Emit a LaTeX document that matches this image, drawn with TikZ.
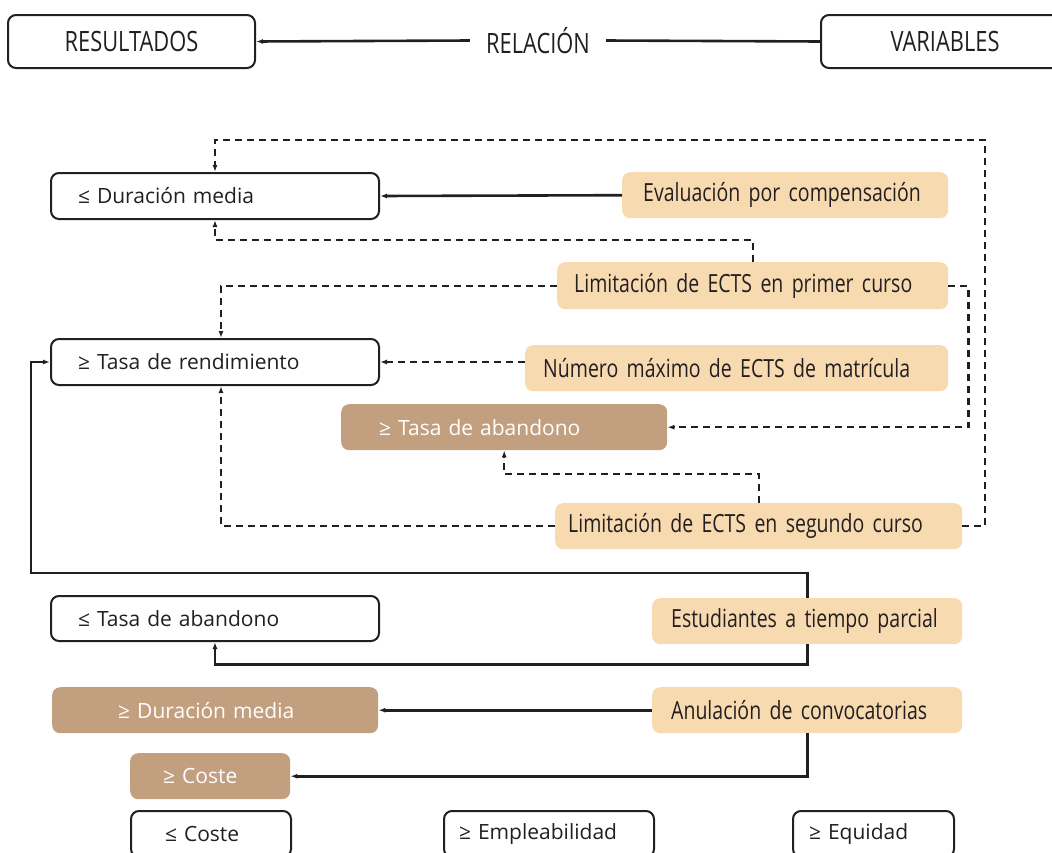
\documentclass[tikz,border=0pt]{standalone}
\usepackage{fontspec}
\setmainfont{Open Sans}
\newfontfamily\narrowfont[FakeStretch=0.78, WordSpace=0.8]{Open Sans}
\newfontfamily\headfont[FakeStretch=0.78]{Open Sans}
\usetikzlibrary{arrows.meta}
\definecolor{ink}{HTML}{231F20}
\definecolor{peach}{HTML}{F8DAB1}
\definecolor{tan}{HTML}{C29F7F}

\begin{document}
\begin{tikzpicture}[x=1pt, y=-1pt,
    every node/.style={text=ink, inner ysep=0pt, anchor=north west, align=left},
    head/.style={draw=ink, line width=2pt, rounded corners=8pt, minimum height=53pt,
      font=\headfont\fontsize{28}{30}\selectfont, align=center},
    res/.style={draw=ink, line width=2pt, rounded corners=8pt, minimum height=46pt,
      font=\fontsize{21}{24}\selectfont},
    tanbox/.style={fill=tan, rounded corners=8pt, minimum height=46pt, text=white,
      font=\fontsize{21}{24}\selectfont},
    var/.style={fill=peach, rounded corners=8pt, minimum height=46pt,
      font=\narrowfont\fontsize{25}{28}\selectfont},
    sline/.style={draw=ink, line width=2.6pt},
    dline/.style={draw=ink, line width=2.2pt, dash pattern=on 7pt off 5pt},
    >={Latex[length=7pt,width=5pt]}]
  \clip (0,0) rectangle (1052,852);

  % Header
  \node[head, text width=247pt, inner xsep=0pt] (hres) at (7,14) {RESULTADOS};
  \node[head, text width=248pt, inner xsep=0pt] (hvar) at (820,14) {VARIABLES};
  \node[anchor=center, font=\headfont\fontsize{28}{30}\selectfont, inner xsep=16pt] (rel) at (538,40.5) {RELACIÓN};
  \draw[sline,->] (rel.west) -- (hres.east);
  \draw[sline] (rel.east) -- (hvar.west);

  % Resultados
  \node[res, text width=274pt, inner xsep=27pt] (dmed) at (50,172) {≤ Duración media};
  \node[res, text width=274pt, inner xsep=27pt] (trend) at (50,338) {≥ Tasa de rendimiento};
  \node[tanbox, text width=250pt, inner xsep=38pt] (tab) at (341,404) {≥ Tasa de abandono};
  \node[res, text width=274pt, inner xsep=27pt, minimum height=45pt] (tab2) at (50,595) {≤ Tasa de abandono};
  \node[tanbox, text width=194pt, inner xsep=66pt] (dmed2) at (52,687) {≥ Duración media};
  \node[tanbox, text width=94pt, inner xsep=33pt] (coste) at (130,753) {≥ Coste};
  \node[res, text width=92pt, inner xsep=34pt] (lcoste) at (130,810) {≤ Coste};
  \node[res, text width=180pt, inner xsep=15pt] (empl) at (443,810) {≥ Empleabilidad};
  \node[res, text width=129pt, inner xsep=16pt] (equi) at (792,810) {≥ Equidad};

  % Variables
  \node[var, text width=284pt, inner xsep=21pt] (eval) at (622,172) {Evaluación por compensación};
  \node[var, text width=357pt, inner xsep=17pt, minimum height=47pt] (lim1) at (557,262) {Limitación de ECTS en primer curso};
  \node[var, text width=387pt, inner xsep=18pt] (num) at (525,345) {Número máximo de ECTS de matrícula};
  \node[var, text width=381pt, inner xsep=13pt] (seg2) at (555,503) {Limitación de ECTS en segundo curso};
  \node[var, text width=272pt, inner xsep=19pt] (est) at (652,598) {Estudiantes a tiempo parcial};
  \node[var, text width=272pt, inner xsep=19pt] (anul) at (652,687) {Anulación de convocatorias};

  % Relaciones directas
  \draw[sline,->] (eval.west) -- (dmed.east);
  \draw[sline,->] (anul.west) -- (dmed2.east);
  \draw[sline,->] (anul.south) |- (coste.east);
  \draw[sline,->] (est.north) |- (31,573) |- (trend.west);
  \draw[sline,->] (est.south) -- ++(0,20) -| (tab2.south);

  % Relaciones discontinuas
  \draw[dline,->] (seg2.east) -| (985,140) -| (dmed.north);
  \draw[dline,->] (lim1.east) -- ++(20,0) |- (tab.east);
  \draw[dline,->] (lim1.north) -- ++(0,-22) -| (dmed.south);
  \draw[dline,->] (lim1.west) -| ([xshift=6pt]trend.north);
  \draw[dline,->] (num.west |- trend.east) -- (trend.east);
  \draw[dline,->] (seg2.north) -- ++(0,-29) -| (tab.south);
  \draw[dline,->] (seg2.west) -| ([xshift=6pt]trend.south);
\end{tikzpicture}
\end{document}
